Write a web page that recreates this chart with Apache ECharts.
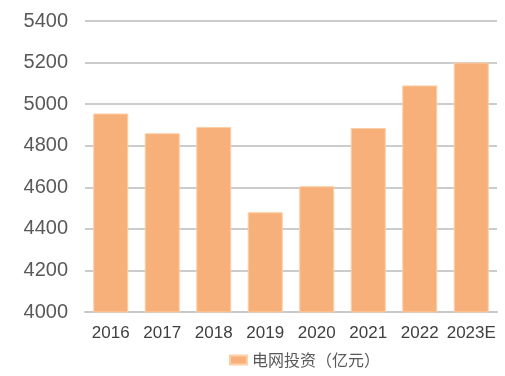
<!DOCTYPE html>
<html lang="zh">
<head>
  <meta charset="UTF-8" />
  <title>电网投资</title>
  <script src="https://cdn.jsdelivr.net/npm/echarts@6.0.0/dist/echarts.min.js"></script>
  <style>
    html, body { margin: 0; padding: 0; background: #fff; }
  </style>
</head>
<body>
  <div id="main" style="width:505px; height:376px;"></div>
  <script type="text/javascript">
    // 数据
    const years = ['2016', '2017', '2018', '2019', '2020', '2021', '2022', '2023E'];
    const investment = [4955, 4860, 4890, 4480, 4605, 4885, 5090, 5200];
    const seriesName = '电网投资（亿元）';

    const chart = echarts.init(document.getElementById('main'));
    chart.setOption({
      animation: false,
      grid: { left: 85, right: 8, top: 21, bottom: 64 },
      legend: {
        bottom: 3,
        left: 224,
        icon: 'rect',
        itemWidth: 17,
        itemHeight: 9,
        itemGap: 6,
        textStyle: { fontSize: 16, color: '#595959', fontFamily: 'Noto Sans CJK SC' },
        data: [seriesName]
      },
      xAxis: {
        type: 'category',
        data: years,
        axisTick: { show: false },
        axisLine: { lineStyle: { color: '#c8c8c8', width: 2 } },
        axisLabel: {
          interval: 0,
          fontSize: 17,
          color: '#404040',
          margin: 13,
          fontFamily: 'Liberation Sans'
        }
      },
      yAxis: {
        type: 'value',
        min: 4000,
        max: 5400,
        interval: 200,
        axisLine: { show: false },
        axisTick: { show: false },
        splitLine: { lineStyle: { color: '#cccccc', width: 2 } },
        axisLabel: {
          formatter: v => String(v),
          fontSize: 20,
          color: '#595959',
          margin: 17,
          fontFamily: 'Liberation Sans'
        }
      },
      series: [{
        name: seriesName,
        type: 'bar',
        data: investment,
        barWidth: '68%',
        itemStyle: { color: '#F8B07A', borderColor: '#FCCFA8', borderWidth: 1 }
      }]
    });
  </script>
</body>
</html>
